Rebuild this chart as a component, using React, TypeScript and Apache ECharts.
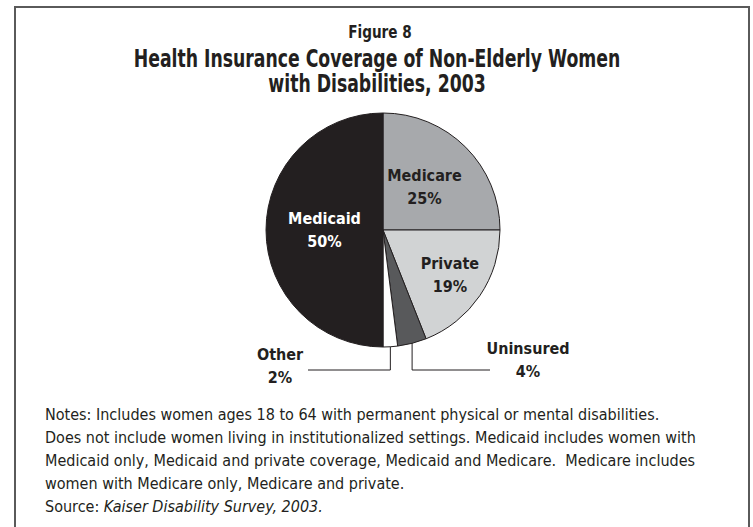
import React, { useEffect, useRef } from "react";
import * as echarts from "echarts";

const categories = ["Medicare", "Private", "Uninsured", "Other", "Medicaid"];
const values = [25, 19, 4, 2, 50];
const colors = ["#a7a9ac", "#d1d3d4", "#58595b", "#ffffff", "#231f20"];
const figureLabel = "Figure 8";
const titleLines = ["Health Insurance Coverage of Non-Elderly Women", "with Disabilities, 2003"];
const noteLines = [
  "Notes: Includes women ages 18 to 64 with permanent physical or mental disabilities.",
  "Does not include women living in institutionalized settings. Medicaid includes women with",
  "Medicaid only, Medicaid and private coverage, Medicaid and Medicare.  Medicare includes",
  "women with Medicare only, Medicare and private.",
];
const sourcePrefix = "Source: ";
const sourceItalic = "Kaiser Disability Survey, 2003.";

const FONT = "'DejaVu Sans Condensed', 'Liberation Sans Narrow', Arial, sans-serif";
const INK = "#231f20";

export default function App() {
  const ref = useRef<HTMLDivElement>(null);
  useEffect(() => {
    if (!ref.current) return;
    const chart = echarts.init(ref.current, null, { renderer: "svg" });
    const outside: Record<string, { lx: number; ly: number; endX: number }> = {
      Other: { lx: 280, ly: 366, endX: 308 },
      Uninsured: { lx: 528, ly: 360, endX: 490 },
    };
    const insideOffset: Record<string, number[]> = {
      Medicare: [-2, 0],
      Private: [16, 10],
      Medicaid: [3, 0],
    };
    const data = categories.map((name, i) => {
      const isOut = !!outside[name];
      return {
        name,
        value: values[i],
        itemStyle: { color: colors[i] },
        label: isOut
          ? { show: true, position: "outside", color: INK }
          : {
              show: true,
              position: "inside",
              offset: insideOffset[name],
              color: name === "Medicaid" ? "#ffffff" : INK,
            },
        labelLine: { show: isOut, lineStyle: { color: INK, width: 1 } },
      };
    });
    const titleFont = (size: number) => `bold ${size}px ${FONT}`;
    chart.setOption({
      animation: false,
      backgroundColor: "#ffffff",
      graphic: [
        {
          type: "rect",
          shape: { x: 15, y: 7, width: 734, height: 540 },
          style: { fill: "none", stroke: "#5a5a5a", lineWidth: 2 },
          silent: true,
        },
        {
          type: "text",
          x: 380,
          y: 32,
          scaleX: 0.84,
          style: {
            text: figureLabel,
            font: titleFont(18),
            fill: INK,
            textAlign: "center",
            textVerticalAlign: "middle",
          },
        },
        ...titleLines.map((t, i) => ({
          type: "text",
          x: 377,
          y: 59 + i * 24.5,
          scaleX: 0.8,
          style: {
            text: t,
            font: titleFont(24),
            fill: INK,
            textAlign: "center",
            textVerticalAlign: "middle",
          },
        })),
      ],
      title: [
        {
          text: noteLines.join("\n") + "\n" + sourcePrefix + "{i|" + sourceItalic + "}",
          left: 40,
          top: 398,
          textStyle: {
            fontFamily: FONT,
            fontSize: 16,
            fontWeight: "normal",
            color: INK,
            lineHeight: 23,
            rich: {
              i: { fontFamily: FONT, fontSize: 16, fontStyle: "italic", color: INK, lineHeight: 23 },
            },
          },
        },
      ],
      series: [
        {
          type: "pie",
          center: [383, 230],
          radius: [0, 117],
          startAngle: 90,
          clockwise: true,
          avoidLabelOverlap: false,
          itemStyle: { borderColor: INK, borderWidth: 1 },
          label: {
            formatter: "{b}\n{c}%",
            fontFamily: FONT,
            fontSize: 16,
            fontWeight: "bold",
            lineHeight: 23,
            align: "center",
          },
          labelLine: { length: 20, length2: 40 },
          labelLayout: (params: any) => {
            const name = categories[params.dataIndex];
            const o = outside[name];
            if (!o || !params.labelLinePoints) return {};
            const p0 = params.labelLinePoints[0];
            const ax = p0[0];
            const ay = p0[1] - 6;
            const lineY = 370;
            return {
              x: o.lx,
              y: o.ly,
              align: "center",
              verticalAlign: "middle",
              labelLinePoints: [
                [ax, ay],
                [ax, lineY],
                [o.endX, lineY],
              ],
            };
          },
          data,
        },
      ],
    });
    return () => chart.dispose();
  }, []);
  return <div ref={ref} style={{ width: 753, height: 527, position: "absolute", left: 0, top: 0 }} />;
}
